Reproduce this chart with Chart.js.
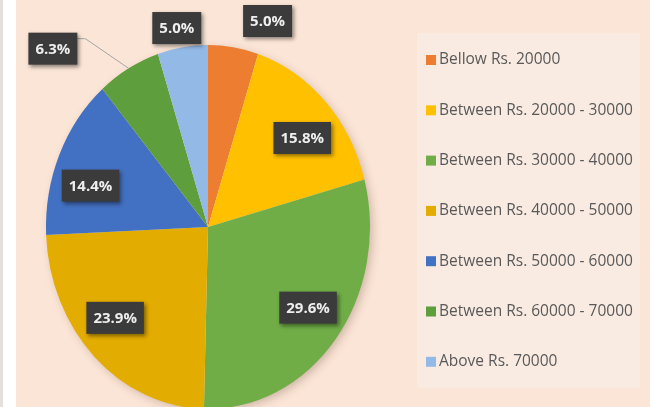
<!DOCTYPE html>
<html>
<head>
<meta charset="utf-8">
<script src="https://cdn.jsdelivr.net/npm/chart.js@4.4.1/dist/chart.umd.min.js"></script>
<style>
    html, body { margin: 0; padding: 0; background: #fbe5d6; }
    #wrap { width: 650px; height: 407px; position: relative; }
</style>
</head>
<body>
<div id="wrap"><canvas id="pie"></canvas></div>
<script>
const categories = [
    'Bellow Rs. 20000',
    'Between Rs. 20000 - 30000',
    'Between Rs. 30000 - 40000',
    'Between Rs. 40000 - 50000',
    'Between Rs. 50000 - 60000',
    'Between Rs. 60000 - 70000',
    'Above Rs. 70000'
];
const shares = [5.0, 15.8, 29.6, 23.9, 14.4, 6.3, 5.0];
const sliceColors = ['#ed7d31', '#ffc000', '#70ad47', '#e3ac00', '#4270c2', '#5e9e3c', '#93b9e6'];

// label spot: [fraction of radius, shift from slice middle in degrees]
const labelSpots = [[1.19, 9], [0.76, 3.5], [0.76, -2.5], [0.76, 4.5], [0.76, -6], [1.37, -15], [1.11, -1]];
const leaderLine = [false, false, false, false, false, true, false];

const stretchY = 1.1235; // the picture's pie is taller than wide
const bg = '#fbe5d6';

const piePlugin = {
    id: 'piePlugin',
    beforeDraw(chart) {
        const ctx = chart.ctx;
        ctx.save();
        ctx.fillStyle = bg;
        ctx.fillRect(0, 0, chart.width, chart.height);
        ctx.fillStyle = '#ffffff';
        ctx.fillRect(0, 0, 16, chart.height);
        ctx.fillStyle = '#e4e0dd';
        ctx.fillRect(0, 0, 3, chart.height);
        // legend panel
        ctx.fillStyle = '#f9ebe2';
        ctx.fillRect(417, 33, 223, 355);
        ctx.restore();
    },
    beforeDatasetsDraw(chart) {
        const ctx = chart.ctx;
        const arc = chart.getDatasetMeta(0).data[0];
        const { x, y, outerRadius } = arc;
        ctx.save();
        ctx.shadowColor = 'rgba(90,60,40,0.30)';
        ctx.shadowBlur = 10;
        ctx.shadowOffsetX = 3;
        ctx.shadowOffsetY = 3;
        ctx.beginPath();
        ctx.ellipse(x, y, outerRadius - 1, (outerRadius - 1) * stretchY, 0, 0, Math.PI * 2);
        ctx.fillStyle = bg;
        ctx.fill();
        ctx.restore();

        ctx.save();
        ctx.translate(x, y);
        ctx.scale(1, stretchY);
        ctx.translate(-x, -y);
    },
    afterDatasetsDraw(chart) {
        const ctx = chart.ctx;
        ctx.restore();

        const arcs = chart.getDatasetMeta(0).data;
        const ds = chart.data.datasets[0];

        // value labels
        arcs.forEach((arc, i) => {
            const { x, y, startAngle, endAngle, outerRadius } = arc;
            const mid = (startAngle + endAngle) / 2;
            const a = mid + labelSpots[i][1] * Math.PI / 180;
            const r = outerRadius * labelSpots[i][0];
            const cx = x + Math.cos(a) * r;
            const cy = y + Math.sin(a) * r * stretchY;
            const text = ds.data[i].toFixed(1) + '%';

            ctx.save();
            ctx.font = 'bold 15px "Open Sans"';
            const tw = ctx.measureText(text).width;
            const w = tw + 14, h = 32;
            const left = cx - w / 2, top = cy - h / 2;

            if (leaderLine[i]) {
                const ex = x + Math.cos(mid) * outerRadius;
                const ey = y + Math.sin(mid) * outerRadius * stretchY;
                ctx.strokeStyle = '#a5a5a5';
                ctx.lineWidth = 1;
                ctx.beginPath();
                ctx.moveTo(ex, ey);
                ctx.lineTo(left + w + 8, top + 6);
                ctx.lineTo(left + w, top + 6);
                ctx.stroke();
            }

            ctx.shadowColor = 'rgba(0,0,0,0.45)';
            ctx.shadowBlur = 4;
            ctx.shadowOffsetX = 2;
            ctx.shadowOffsetY = 2;
            ctx.fillStyle = '#3b3b3b';
            ctx.fillRect(left, top, w, h);
            ctx.shadowColor = 'transparent';
            ctx.fillStyle = '#eeeeee';
            ctx.textAlign = 'center';
            ctx.textBaseline = 'middle';
            ctx.fillText(text, cx, cy + 1);
            ctx.restore();
        });

        // legend
        ctx.save();
        ctx.font = '15.5px "Open Sans"';
        ctx.textBaseline = 'middle';
        chart.data.labels.forEach((lab, i) => {
            const ly = 60 + i * 50.3;
            ctx.fillStyle = ds.backgroundColor[i];
            ctx.fillRect(426, ly - 5, 10, 10);
            ctx.fillStyle = '#595959';
            ctx.fillText(lab, 439, ly);
        });
        ctx.restore();
    }
};

new Chart(document.getElementById('pie'), {
    type: 'pie',
    data: {
        labels: categories,
        datasets: [{
            data: shares,
            backgroundColor: sliceColors,
            borderWidth: 0,
            clip: false
        }]
    },
    options: {
        responsive: true,
        maintainAspectRatio: false,
        animation: false,
        events: [],
        layout: {
            padding: { left: 46, right: 280, top: 65, bottom: 18 }
        },
        plugins: {
            legend: { display: false },
            tooltip: { enabled: false }
        }
    },
    plugins: [piePlugin]
});
</script>
</body>
</html>
